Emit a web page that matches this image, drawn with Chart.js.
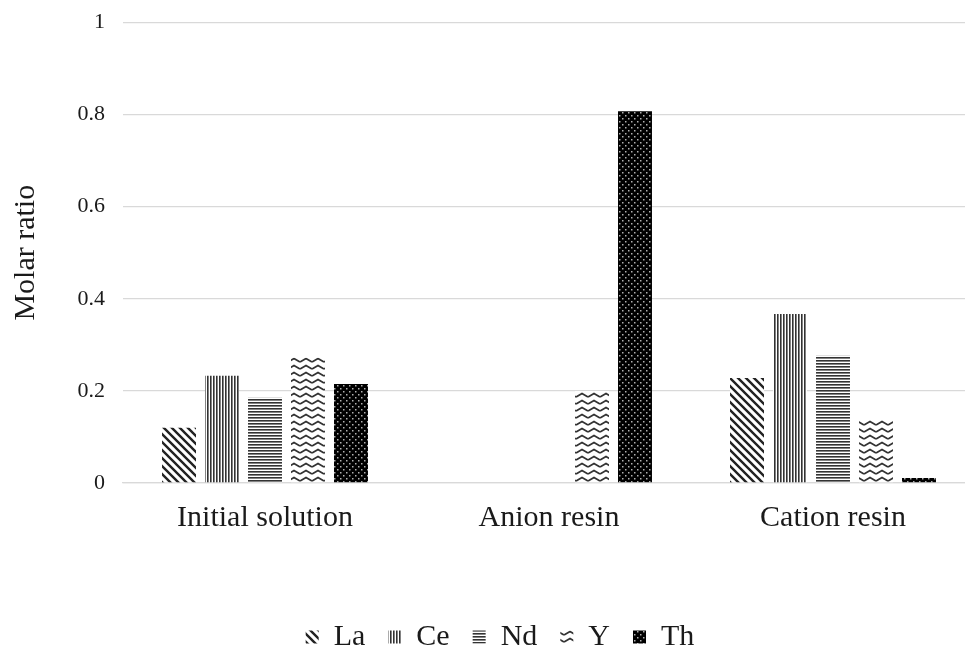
<!DOCTYPE html>
<html>
<head>
<meta charset="utf-8">
<script src="https://cdn.jsdelivr.net/npm/chart.js@4/dist/chart.umd.min.js"></script>
<style>
  html, body { margin: 0; padding: 0; background: #fff; overflow: hidden; }
  #wrap { width: 980px; height: 648px; }
</style>
</head>
<body>
<div id="wrap"><canvas id="chart"></canvas></div>
<script>
// data
const categories = ['Initial solution', 'Anion resin', 'Cation resin'];
const seriesNames = ['La', 'Ce', 'Nd', 'Y', 'Th'];
const laValues = [0.12, 0, 0.228];
const ceValues = [0.233, 0, 0.367];
const ndValues = [0.185, 0, 0.276];
const yValues = [0.272, 0.2, 0.139];
const thValues = [0.215, 0.807, 0.011];
const yTicks = [0, 0.2, 0.4, 0.6, 0.8, 1];

const serif = "'Liberation Serif', 'Times New Roman', serif";

function makeTile(w, h, draw) {
    var c = document.createElement('canvas');
    c.width = w; c.height = h;
    var g = c.getContext('2d');
    g.fillStyle = '#fff';
    g.fillRect(0, 0, w, h);
    draw(g);
    return document.getElementById('chart').getContext('2d').createPattern(c, 'repeat');
}

// La: diagonal "\" stripes
var patLa = makeTile(8, 8, function(g) {
    g.strokeStyle = '#222';
    g.lineWidth = 2.4;
    g.beginPath();
    g.moveTo(-2, -2); g.lineTo(10, 10);
    g.moveTo(-10, -2); g.lineTo(2, 10);
    g.moveTo(6, -2); g.lineTo(18, 10);
    g.stroke();
});
// Ce: vertical lines
var patCe = makeTile(3, 3, function(g) {
    g.fillStyle = '#333';
    g.fillRect(0, 0, 1.6, 3);
});
// Nd: horizontal lines
var patNd = makeTile(3, 3, function(g) {
    g.fillStyle = '#333';
    g.fillRect(0, 0, 3, 1.6);
});
// Y: zigzag
var patY = makeTile(12, 7, function(g) {
    g.strokeStyle = '#333';
    g.lineWidth = 1.8;
    g.beginPath();
    g.moveTo(0, 5); g.lineTo(6, 1.5); g.lineTo(12, 5);
    g.stroke();
});
// Th: black with light dots
var patTh = makeTile(6, 6, function(g) {
    g.fillStyle = '#000';
    g.fillRect(0, 0, 6, 6);
    g.fillStyle = '#b0b0b0';
    g.fillRect(1, 1, 1.5, 1.5);
    g.fillRect(4, 4, 1.5, 1.5);
});

const patterns = [patLa, patCe, patNd, patY, patTh];
const allValues = [laValues, ceValues, ndValues, yValues, thValues];

var ctx = document.getElementById('chart');
var myChart = new Chart(ctx, {
    type: 'bar',
    data: {
        labels: categories,
        datasets: seriesNames.map(function(name, i) {
            return {
                label: name,
                data: allValues[i],
                backgroundColor: patterns[i],
                borderWidth: 0,
                categoryPercentage: 0.757,
                barPercentage: 0.79
            };
        })
    },
    options: {
        responsive: true,
        maintainAspectRatio: false,
        animation: false,
        layout: { padding: { top: 22, right: 5, bottom: -14, left: 25 } },
        plugins: {
            legend: {
                position: 'bottom',
                labels: {
                    boxWidth: 13,
                    boxHeight: 13,
                    padding: 23,
                    color: '#1a1a1a',
                    font: { family: serif, size: 30 }
                }
            },
            tooltip: { enabled: false }
        },
        scales: {
            x: {
                grid: { display: false, drawTicks: false },
                border: { display: true, color: '#d9d9d9', width: 1.3 },
                ticks: {
                    color: '#1a1a1a',
                    padding: 17,
                    font: { family: serif, size: 30 }
                },
                afterFit: function(scale) { scale.height = 116; }
            },
            y: {
                min: 0,
                max: 1,
                afterBuildTicks: function(scale) {
                    scale.ticks = yTicks.map(function(v) { return { value: v }; });
                },
                grid: { color: '#d9d9d9', drawTicks: false, lineWidth: 1.3 },
                border: { display: false },
                ticks: {
                    color: '#1a1a1a',
                    padding: 18,
                    font: { family: serif, size: 22, lineHeight: 0.4 },
                    callback: function(v) { return String(v); }
                },
                title: {
                    display: true,
                    text: 'Molar ratio',
                    color: '#1a1a1a',
                    font: { family: serif, size: 30 },
                    padding: { top: -17, bottom: 0 }
                },
                afterFit: function(scale) { scale.width = 98; }
            }
        }
    }
});
</script>
</body>
</html>
